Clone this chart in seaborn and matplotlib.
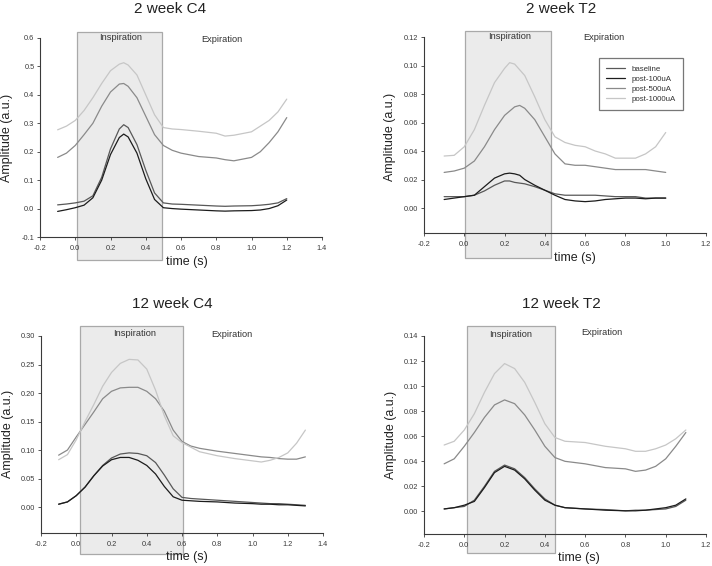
import numpy as np
import pandas as pd
import matplotlib
matplotlib.use("Agg")
import matplotlib.pyplot as plt
import seaborn as sns
from matplotlib.patches import Rectangle

sns.set_style("ticks")
plt.rcParams['font.family'] = ['Liberation Sans', 'DejaVu Sans']
plt.rcParams['axes.unicode_minus'] = False

conditions = ["baseline", "post-100uA", "post-500uA", "post-1000uA"]
line_colors = ["#585858", "#1c1c1c", "#8a8a8a", "#c6c6c6"]

titles = ["2 week C4", "2 week T2", "12 week C4", "12 week T2"]

# ---- 2 week C4 ----
p1_time = [-0.1, -0.05, 0.0, 0.05, 0.1, 0.15, 0.2, 0.25, 0.275, 0.3, 0.35, 0.4, 0.45,
           0.5, 0.55, 0.6, 0.7, 0.8, 0.85, 0.9, 1.0, 1.05, 1.1, 1.15, 1.2]
p1_baseline = [0.013, 0.016, 0.02, 0.026, 0.045, 0.11, 0.21, 0.28, 0.295, 0.285, 0.225, 0.135, 0.055,
               0.02, 0.016, 0.015, 0.012, 0.009, 0.008, 0.009, 0.01, 0.012, 0.015, 0.02, 0.035]
p1_post100 = [-0.01, -0.004, 0.003, 0.012, 0.038, 0.1, 0.19, 0.25, 0.262, 0.252, 0.195, 0.105, 0.032,
              0.003, 0.0, -0.002, -0.005, -0.008, -0.009, -0.008, -0.007, -0.005, 0.0, 0.01, 0.03]
p1_post500 = [0.18, 0.195, 0.222, 0.26, 0.3, 0.36, 0.41, 0.438, 0.44, 0.43, 0.39, 0.325, 0.26,
              0.222, 0.205, 0.195, 0.183, 0.178, 0.172, 0.168, 0.18, 0.2, 0.232, 0.27, 0.32]
p1_post1000 = [0.277, 0.29, 0.31, 0.345, 0.39, 0.44, 0.485, 0.508, 0.513, 0.505, 0.47, 0.4, 0.33,
               0.285, 0.28, 0.278, 0.272, 0.265, 0.255, 0.258, 0.27, 0.29, 0.31, 0.34, 0.385]

# ---- 2 week T2 ----
p2_time = [-0.1, -0.05, 0.0, 0.05, 0.1, 0.15, 0.2, 0.225, 0.25, 0.275, 0.3, 0.35, 0.4, 0.45,
           0.5, 0.55, 0.6, 0.65, 0.7, 0.75, 0.8, 0.85, 0.9, 0.95, 1.0]
p2_baseline = [0.008, 0.008, 0.008, 0.009, 0.012, 0.016, 0.019, 0.019, 0.018, 0.0175, 0.017, 0.015, 0.0125,
               0.01, 0.009, 0.009, 0.009, 0.009, 0.0085, 0.008, 0.008, 0.008, 0.007, 0.007, 0.007]
p2_post100 = [0.006, 0.007, 0.008, 0.009, 0.015, 0.021, 0.024, 0.0245, 0.024, 0.023, 0.02, 0.016, 0.0125,
              0.009, 0.006, 0.005, 0.0045, 0.005, 0.006, 0.0065, 0.007, 0.007, 0.0065, 0.007, 0.007]
p2_post500 = [0.025, 0.026, 0.028, 0.033, 0.043, 0.055, 0.065, 0.068, 0.071, 0.072, 0.07, 0.062, 0.05,
              0.038, 0.031, 0.03, 0.03, 0.029, 0.028, 0.027, 0.027, 0.027, 0.027, 0.026, 0.025]
p2_post1000 = [0.0365, 0.037, 0.043, 0.055, 0.072, 0.088, 0.098, 0.102, 0.101, 0.097, 0.093, 0.078, 0.062,
               0.05, 0.046, 0.044, 0.043, 0.04, 0.038, 0.035, 0.035, 0.035, 0.038, 0.043, 0.053]

# ---- 12 week C4 ----
p3_time = [-0.1, -0.05, 0.0, 0.05, 0.1, 0.15, 0.2, 0.25, 0.3, 0.35, 0.4, 0.45, 0.5, 0.55,
           0.6, 0.65, 0.7, 0.8, 0.9, 1.0, 1.05, 1.1, 1.15, 1.2, 1.25, 1.3]
p3_baseline = [0.005, 0.009, 0.02, 0.035, 0.055, 0.073, 0.086, 0.093, 0.095, 0.094, 0.09, 0.078, 0.056, 0.032,
               0.017, 0.015, 0.014, 0.012, 0.01, 0.008, 0.007, 0.006, 0.006, 0.005, 0.004, 0.003]
p3_post100 = [0.005, 0.009, 0.02, 0.035, 0.055, 0.072, 0.083, 0.087, 0.087, 0.082, 0.073, 0.058, 0.036, 0.018,
              0.012, 0.011, 0.01, 0.009, 0.007, 0.006, 0.005, 0.005, 0.004, 0.004, 0.003, 0.002]
p3_post500 = [0.091, 0.1, 0.123, 0.145, 0.167, 0.19, 0.203, 0.209, 0.21, 0.21, 0.203, 0.19, 0.168, 0.135,
              0.115, 0.107, 0.103, 0.098, 0.094, 0.09, 0.088, 0.087, 0.085, 0.084, 0.084, 0.088]
p3_post1000 = [0.083, 0.092, 0.118, 0.15, 0.18, 0.212, 0.236, 0.252, 0.259, 0.258, 0.242, 0.205, 0.16, 0.125,
               0.113, 0.105, 0.097, 0.09, 0.085, 0.081, 0.079, 0.082, 0.087, 0.095, 0.112, 0.135]

# ---- 12 week T2 ----
p4_time = [-0.1, -0.05, 0.0, 0.05, 0.1, 0.15, 0.2, 0.25, 0.3, 0.35, 0.4, 0.45, 0.5,
           0.6, 0.7, 0.8, 0.85, 0.9, 0.95, 1.0, 1.05, 1.1]
p4_baseline = [0.002, 0.003, 0.004, 0.009, 0.02, 0.032, 0.037, 0.034, 0.027, 0.018, 0.01, 0.005, 0.003,
               0.002, 0.0015, 0.0005, 0.001, 0.001, 0.0015, 0.002, 0.004, 0.009]
p4_post100 = [0.002, 0.003, 0.005, 0.008, 0.019, 0.031, 0.036, 0.033, 0.026, 0.017, 0.009, 0.005, 0.003,
              0.002, 0.001, 0.0005, 0.0005, 0.001, 0.002, 0.003, 0.005, 0.01]
p4_post500 = [0.038, 0.042, 0.052, 0.063, 0.075, 0.085, 0.089, 0.086, 0.077, 0.065, 0.052, 0.043, 0.04,
              0.038, 0.035, 0.034, 0.032, 0.033, 0.036, 0.042, 0.052, 0.063]
p4_post1000 = [0.053, 0.056, 0.065, 0.078, 0.095, 0.11, 0.118, 0.114, 0.103, 0.087, 0.07, 0.059, 0.056,
               0.055, 0.052, 0.05, 0.048, 0.048, 0.05, 0.053, 0.058, 0.065]

panel_data = [
    (p1_time, [p1_baseline, p1_post100, p1_post500, p1_post1000]),
    (p2_time, [p2_baseline, p2_post100, p2_post500, p2_post1000]),
    (p3_time, [p3_baseline, p3_post100, p3_post500, p3_post1000]),
    (p4_time, [p4_baseline, p4_post100, p4_post500, p4_post1000]),
]

# tick labels
p1_yticks = [-0.1, 0.0, 0.1, 0.2, 0.3, 0.4, 0.5, 0.6]
p2_yticks = [0.00, 0.02, 0.04, 0.06, 0.08, 0.10, 0.12]
p3_yticks = [0.00, 0.05, 0.10, 0.15, 0.20, 0.25, 0.30]
p4_yticks = [0.00, 0.02, 0.04, 0.06, 0.08, 0.10, 0.12, 0.14]
c4_xticks = [-0.2, 0.0, 0.2, 0.4, 0.6, 0.8, 1.0, 1.2, 1.4]
t2_xticks = [-0.2, 0.0, 0.2, 0.4, 0.6, 0.8, 1.0, 1.2]

# ---- layout (pixels) ----
W, H = 712, 566
layout = [
    dict(box=(40, 38, 322, 237), xlim=(-0.2, 1.4), ylim=(-0.1, 0.6), yfmt="%.1f", yt=p1_yticks, xt=c4_xticks,
         insp=(0.01, 0.49, -0.181, 0.622), insp_txt=(0.255, 0.6), exp_txt=(0.83, 0.596),
         title=(170, 9), xlab=(187, 262), ylab=(7, 138)),
    dict(box=(424, 37, 706, 233), xlim=(-0.2, 1.2), ylim=(-0.0175, 0.12), yfmt="%.2f", yt=p2_yticks, xt=t2_xticks,
         insp=(0.004, 0.429, -0.035, 0.1244), insp_txt=(0.227, 0.1205), exp_txt=(0.694, 0.1195),
         title=(561, 9), xlab=(575, 258), ylab=(390, 137)),
    dict(box=(41, 336, 323, 533), xlim=(-0.2, 1.4), ylim=(-0.0455, 0.30), yfmt="%.2f", yt=p3_yticks, xt=c4_xticks,
         insp=(0.021, 0.607, -0.082, 0.317), insp_txt=(0.331, 0.3045), exp_txt=(0.884, 0.3035),
         title=(172, 304), xlab=(187, 557), ylab=(8, 434)),
    dict(box=(424, 336, 706, 534), xlim=(-0.2, 1.2), ylim=(-0.018, 0.14), yfmt="%.2f", yt=p4_yticks, xt=t2_xticks,
         insp=(0.015, 0.452, -0.0334, 0.1483), insp_txt=(0.232, 0.1408), exp_txt=(0.682, 0.143),
         title=(561, 304), xlab=(579, 558), ylab=(391, 435)),
]

fig = plt.figure(figsize=(W / 100, H / 100), dpi=100)
palette = dict(zip(conditions, line_colors))

for i, ((tvals, series), lay) in enumerate(zip(panel_data, layout)):
    l, t, r, b = lay["box"]
    ax = fig.add_axes([l / W, 1 - b / H, (r - l) / W, (b - t) / H])
    rows = []
    for cond, vals in zip(conditions, series):
        for tt, vv in zip(tvals, vals):
            rows.append((tt, vv, cond))
    df = pd.DataFrame(rows, columns=["time", "amp", "condition"])

    x0, x1, y0, y1 = lay["insp"]
    ax.add_patch(Rectangle((x0, y0), x1 - x0, y1 - y0, facecolor="#ebebeb",
                           edgecolor="#a9a9a9", lw=0.9, clip_on=False, zorder=0.5))

    sns.lineplot(data=df, x="time", y="amp", hue="condition", hue_order=conditions,
                 palette=palette, lw=0.9, ax=ax, legend=(i == 1), zorder=2,
                 errorbar=None, sort=False)

    ax.set_xlim(*lay["xlim"])
    ax.set_ylim(*lay["ylim"])
    ax.set_xticks(lay["xt"])
    ax.set_xticklabels(["%.1f" % v for v in lay["xt"]])
    ax.set_yticks(lay["yt"])
    ax.set_yticklabels([lay["yfmt"] % v for v in lay["yt"]])
    ax.set_xlabel("")
    ax.set_ylabel("")
    sns.despine(ax=ax)
    for sp in ("left", "bottom"):
        ax.spines[sp].set_color("#3a3a3a")
        ax.spines[sp].set_linewidth(0.8)
    ax.tick_params(axis="both", labelsize=5.3, length=2.4, width=0.6,
                   color="#3a3a3a", labelcolor="#3a3a3a")
    ax.tick_params(axis="x", pad=3.2)
    ax.tick_params(axis="y", pad=1.6)
    ax.patch.set_alpha(0)

    ax.text(*lay["insp_txt"], "Inspiration", fontsize=6.7, ha="center", va="center",
            color="#333333", clip_on=False)
    ax.text(*lay["exp_txt"], "Expiration", fontsize=6.7, ha="center", va="center",
            color="#333333", clip_on=False)

    if i == 1:
        handles, labels = ax.get_legend_handles_labels()
        leg = ax.legend(handles, labels, loc="upper left", bbox_to_anchor=(0.62, 0.893),
                        borderaxespad=0, fontsize=5.7, frameon=True, fancybox=False,
                        handlelength=2.4, handletextpad=0.8, labelspacing=0.3,
                        borderpad=0.95)
        leg.get_frame().set_edgecolor("#555555")
        leg.get_frame().set_linewidth(0.9)
        for txt in leg.get_texts():
            txt.set_color("#333333")
        for ln in leg.get_lines():
            ln.set_linewidth(0.9)

    tx, ty = lay["title"]
    fig.text(tx / W, 1 - ty / H, titles[i], fontsize=11, ha="center", va="center", color="#222222")
    xx, xy = lay["xlab"]
    fig.text(xx / W, 1 - xy / H, "time (s)", fontsize=9, ha="center", va="center", color="#222222")
    yx, yy = lay["ylab"]
    fig.text(yx / W, 1 - yy / H, "Amplitude (a.u.)", fontsize=9, ha="center", va="center",
             rotation=90, color="#222222")

fig.savefig("out.png", dpi=100)
